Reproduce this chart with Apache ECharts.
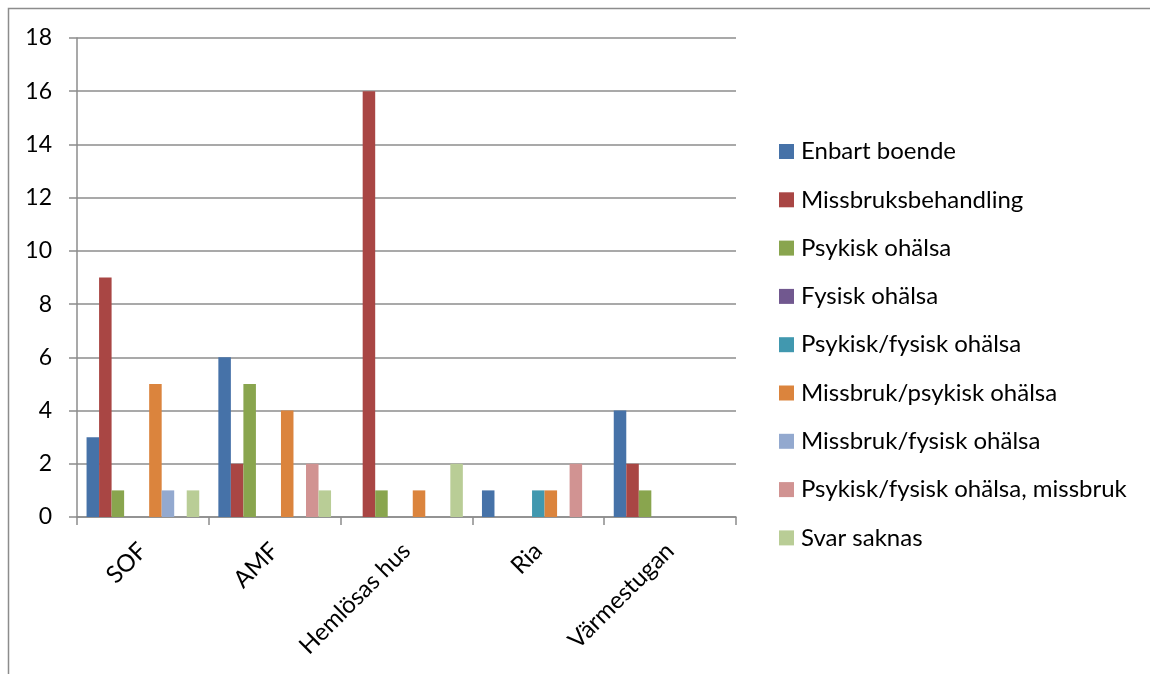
<!DOCTYPE html>
<html>
<head>
<meta charset="utf-8">
<script src="https://cdn.jsdelivr.net/npm/echarts@6/dist/echarts.min.js"></script>
<style>
  html, body { margin: 0; padding: 0; background: #fff; }
  #chart { width: 1150px; height: 674px; }
</style>
</head>
<body>
<div id="chart"></div>
<script>
const categories = ['SOF', 'AMF', 'Hemlösas hus', 'Ria', 'Värmestugan'];
const seriesNames = [
  'Enbart boende',
  'Missbruksbehandling',
  'Psykisk ohälsa',
  'Fysisk ohälsa',
  'Psykisk/fysisk ohälsa',
  'Missbruk/psykisk ohälsa',
  'Missbruk/fysisk ohälsa',
  'Psykisk/fysisk ohälsa, missbruk',
  'Svar saknas'
];
const enbartBoende = [3, 6, 0, 1, 4];
const missbruksbehandling = [9, 2, 16, 0, 2];
const psykiskOhalsa = [1, 5, 1, 0, 1];
const fysiskOhalsa = [0, 0, 0, 0, 0];
const psykFysOhalsa = [0, 0, 0, 1, 0];
const missbrukPsyk = [5, 4, 1, 1, 0];
const missbrukFys = [1, 0, 0, 0, 0];
const psykFysMissbruk = [0, 2, 0, 2, 0];
const svarSaknas = [1, 1, 2, 0, 0];
const yTicks = [0, 18, 2];

const seriesData = [enbartBoende, missbruksbehandling, psykiskOhalsa, fysiskOhalsa,
  psykFysOhalsa, missbrukPsyk, missbrukFys, psykFysMissbruk, svarSaknas];
const colors = ['#4672A8', '#A94644', '#89A54E', '#71588F', '#4198AF',
  '#DB843D', '#93A9CF', '#D19392', '#B9CD96'];

const chart = echarts.init(document.getElementById('chart'));
const axisGrey = '#8c8c8c';
const font = 'Lato, "Open Sans", sans-serif';

chart.setOption({
  animation: false,
  backgroundColor: '#fff',
  color: colors,
  textStyle: { fontFamily: font, color: '#000' },
  // outer chart frame
  graphic: [{
    type: 'rect',
    shape: { x: 8.5, y: 8.5, width: 1200, height: 700 },
    style: { fill: 'none', stroke: '#8c8c8c', lineWidth: 1.5 },
    silent: true
  }],
  grid: { left: 77, right: 414, top: 38, bottom: 157 },
  legend: {
    orient: 'vertical',
    left: 779,
    top: 138,
    padding: 0,
    itemWidth: 15,
    itemHeight: 15,
    itemGap: 21.3,
    icon: 'rect',
    data: seriesNames,
    textStyle: { fontFamily: font, fontSize: 24, color: '#000', lineHeight: 27, padding: [0, 0, 0, 2] }
  },
  xAxis: {
    type: 'category',
    data: categories,
    axisLine: { show: true, lineStyle: { color: axisGrey, width: 1.5 } },
    axisTick: { show: true, length: 8, alignWithLabel: false, lineStyle: { color: axisGrey, width: 1.5 } },
    axisLabel: { rotate: 45, margin: 30, fontSize: 24, color: '#000', fontFamily: font, interval: 0 }
  },
  yAxis: {
    type: 'value',
    min: yTicks[0],
    max: yTicks[1],
    interval: yTicks[2],
    axisLine: { show: true, lineStyle: { color: axisGrey, width: 1.5 } },
    axisTick: { show: true, length: 8, lineStyle: { color: axisGrey, width: 1.5 } },
    splitLine: { show: true, lineStyle: { color: axisGrey, width: 1.5 } },
    axisLabel: { margin: 25, fontSize: 23, color: '#000', fontFamily: font }
  },
  series: seriesNames.map((name, i) => ({
    name: name,
    type: 'bar',
    data: seriesData[i],
    barGap: '0%',
    barCategoryGap: '14.5%',
    itemStyle: { color: colors[i] }
  }))
});
</script>
</body>
</html>
